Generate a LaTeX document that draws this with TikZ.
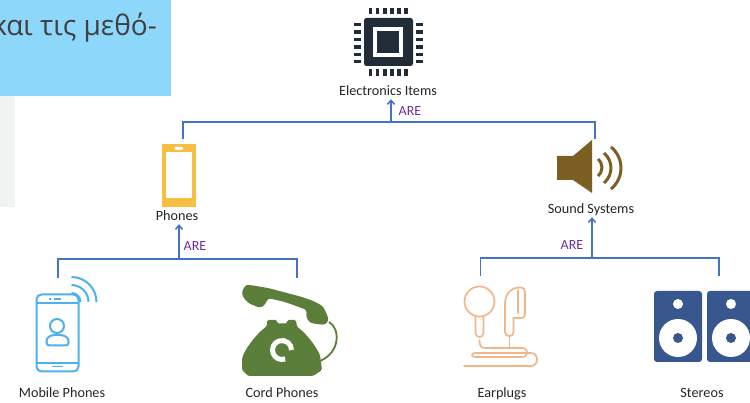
\documentclass[tikz,border=0pt]{standalone}
\usepackage{fontspec}
\setmainfont{Carlito}
\newfontfamily\greekfont{Open Sans}
\usepackage{tikz}
\usetikzlibrary{arrows.meta, calc}
\definecolor{barblue}{RGB}{68,114,196}
\definecolor{arepurple}{RGB}{112,48,160}
\definecolor{noteblue}{RGB}{140,215,250}
\definecolor{panelgray}{RGB}{241,243,243}
\definecolor{chipdark}{RGB}{34,43,56}
\definecolor{phoneyellow}{RGB}{247,191,66}
\definecolor{speakerbrown}{RGB}{123,95,35}
\definecolor{mobileblue}{RGB}{77,177,236}
\definecolor{cordgreen}{RGB}{91,127,59}
\definecolor{plugorange}{RGB}{239,184,140}
\definecolor{stereoblue}{RGB}{56,87,143}

\begin{document}
\begin{tikzpicture}[
    x=1pt, y=-1pt,
    item/.style={font=\fontsize{14.2}{16}\selectfont, text=black!85, inner sep=0pt, text height=10pt, text depth=3pt, yshift=-1.5pt},
    are/.style={font=\fontsize{14}{16}\selectfont, text=arepurple, inner sep=0pt},
    bus/.style={barblue, line width=1.5pt},
    arrow/.style={-{Straight Barb[length=4pt,width=7pt]}, barblue, line width=1.5pt},
    mobileline/.style={draw=mobileblue, line width=2pt},
    plugline/.style={draw=plugorange, line width=1.7pt, line cap=round},
    wave/.style={draw=speakerbrown, line width=3pt}
]
    \useasboundingbox (0,0) rectangle (750,403);
    \fill[white] (0,0) rectangle (750,403);

    % Page behind the picture
    \fill[panelgray] (0,96) rectangle (15,207);
    \fill[noteblue] (0,0) rectangle (171,96);
    \node[anchor=east, inner sep=0pt, text=black!75, font=\greekfont\fontsize{28}{32}\selectfont] (note) at (157,28) {και τις μεθό-};

    % Chip
    \fill[chipdark, rounded corners=2.5pt] (364,18) rectangle (413,66);
    \fill[white] (373,27) rectangle (403,57);
    \fill[chipdark] (377,31) rectangle (399,53);
    \foreach \i in {0,...,5} {
        \fill[chipdark] (368.5+7.1*\i,8) rectangle +(3.8,6.5);
        \fill[chipdark] (368.5+7.1*\i,69.5) rectangle +(3.8,6.5);
        \fill[chipdark] (354,23+7.4*\i) rectangle +(7,3.4);
        \fill[chipdark] (416,23+7.4*\i) rectangle +(7,3.4);
    }

    % Yellow phone
    \fill[phoneyellow] (162,144) rectangle (196,207);
    \fill[white] (166,152.5) rectangle (192,198);
    \fill[white, rounded corners=1pt] (174.5,147) rectangle (183,150);

    % Speaker
    \fill[speakerbrown] (557,156) -- (573,156) -- (592,140) -- (592,193) -- (573,180) -- (557,180) -- cycle;
    \draw[wave] (598,159) .. controls (603.3,164) and (603.3,171) .. (598,176);
    \draw[wave] (604,153) .. controls (613.3,161) and (613.3,175) .. (604,183);
    \draw[wave] (611,147) .. controls (624.3,158) and (624.3,178) .. (611,189);

    % Mobile phone
    \draw[mobileline, rounded corners=5pt] (36.5,294.5) rectangle (78.5,371.5);
    \draw[mobileline] (36.5,302.7) -- (78.5,302.7) (36.5,362.7) -- (78.5,362.7);
    \draw[mobileline, line width=1.5pt] (49,299) -- (50.5,299) (54,299) -- (61,299) (52,366.5) -- (63,366.5);
    \draw[mobileline] (57,326) circle[radius=7];
    \draw[mobileline, rounded corners=3pt] (46.5,345.5) -- (46.5,338) -- (52,335) -- (63,335) -- (68.5,338) -- (68.5,345.5) -- cycle;
    \draw[mobileline] (71.5,277) arc[start angle=-90, end angle=0, radius=25];
    \draw[mobileline] (71.5,285) arc[start angle=-90, end angle=0, radius=17];
    \draw[mobileline] (71.5,293) arc[start angle=-90, end angle=0, radius=9];

    % Cord phone
    \draw[cordgreen, line width=1.8pt] (329,322) .. controls (340,328) and (341,352) .. (320,361);
    \fill[cordgreen, rounded corners=3pt] (241.7,295) .. controls (243,288) and (246,285) .. (250,285) -- (268,288) -- (302,297) .. controls (314,301) and (322,305) .. (325,310) -- (329,320) -- (325,325) -- (310,323) -- (306,317) -- (307,310) -- (285,302) -- (268,298) -- (265,305) -- (260,308) -- (248,303) -- cycle;
    \fill[cordgreen, rounded corners=1.5pt] (267,320) -- (277,320) -- (277,323.5) -- (287,323.5) -- (287,320) -- (296,320) -- (297,327) .. controls (305,332) and (315,345) .. (320,355) -- (322,370) -- (313,376) -- (248,376) -- (242,370) -- (242,360) .. controls (243,352) and (255,335) .. (267,326) -- cycle;
    \draw[white, line width=5pt] (282,350) ++(70:9.5) arc[start angle=70, end angle=360, radius=9.5];

    % Earplugs
    \draw[plugline] (479.5,301.5) circle[radius=15];
    \draw[plugline] (475.5,316) -- (475.5,333) arc[start angle=180, end angle=0, radius=4] -- (483.5,316);
    \draw[plugline] (520,287.5) .. controls (523.5,287.5) and (525,289) .. (525,292) -- (525,314) .. controls (525,317) and (523.5,318) .. (520,318) -- (513.5,318) -- (513.5,332) arc[start angle=0, end angle=180, radius=4.25] -- (505,318) -- (505,304) .. controls (505,295) and (510,287.5) .. (520,287.5) -- cycle;
    \draw[plugline] (518,290) -- (518,313);
    \draw[plugline] (509.5,337) -- (509.5,347);
    \draw[plugline] (479.5,340) .. controls (479.5,346) and (481,348) .. (485,348) -- (522,348) .. controls (529,348) and (529,357) .. (522,357) -- (475,357) .. controls (471,357) and (471,353) .. (475,353) -- (531,353) .. controls (539,353) and (539,366) .. (531,366) -- (464,366);

    % Stereos
    \fill[stereoblue, rounded corners=3pt] (654,291) rectangle (702,362);
    \fill[stereoblue, rounded corners=3pt] (707,291) rectangle (756,362);
    \foreach \cx in {678,731} {
        \fill[white] (\cx,304) circle[radius=5];
        \fill[white] (\cx,338) circle[radius=19];
        \fill[stereoblue] (\cx,338) circle[radius=5];
    }

    % Nodes
    \node[item] (electronics) at (388,91) {Electronics Items};
    \node[item] (phones) at (177,216) {Phones};
    \node[item] (sound) at (591,209) {Sound Systems};
    \node[item] (mobile) at (62,393) {Mobile Phones};
    \node[item] (cord) at (282,393) {Cord Phones};
    \node[item] (earplugs) at (502,393) {Earplugs};
    \node[item] (stereos) at (702,393) {Stereos};
    \node[are] (topare) at (410,111) {ARE};
    \node[are] (phonesare) at (195,246) {ARE};
    \node[are] (soundare) at (572,245) {ARE};

    % Bus ends
    \coordinate (topjoin) at (391,122);
    \coordinate (phonesdrop) at (183,139);
    \coordinate (sounddrop) at (595,139);
    \coordinate (phonesjoin) at (179,259);
    \coordinate (mobiledrop) at (58,278);
    \coordinate (corddrop) at (297,278);
    \coordinate (soundjoin) at (592,258);
    \coordinate (earplugsdrop) at (480.5,276);
    \coordinate (stereosdrop) at (719,276);

    % Arrows
    \draw[bus] (phonesdrop) |- (topjoin) -| (sounddrop);
    \draw[arrow] (topjoin) -- (topjoin |- electronics.south);
    \draw[bus] (mobiledrop) |- (phonesjoin) -| (corddrop);
    \draw[arrow] (phonesjoin) -- (phonesjoin |- phones.south);
    \draw[bus] (earplugsdrop) |- (soundjoin) -| (stereosdrop);
    \draw[arrow] (soundjoin) -- (soundjoin |- sound.south);
\end{tikzpicture}
\end{document}
